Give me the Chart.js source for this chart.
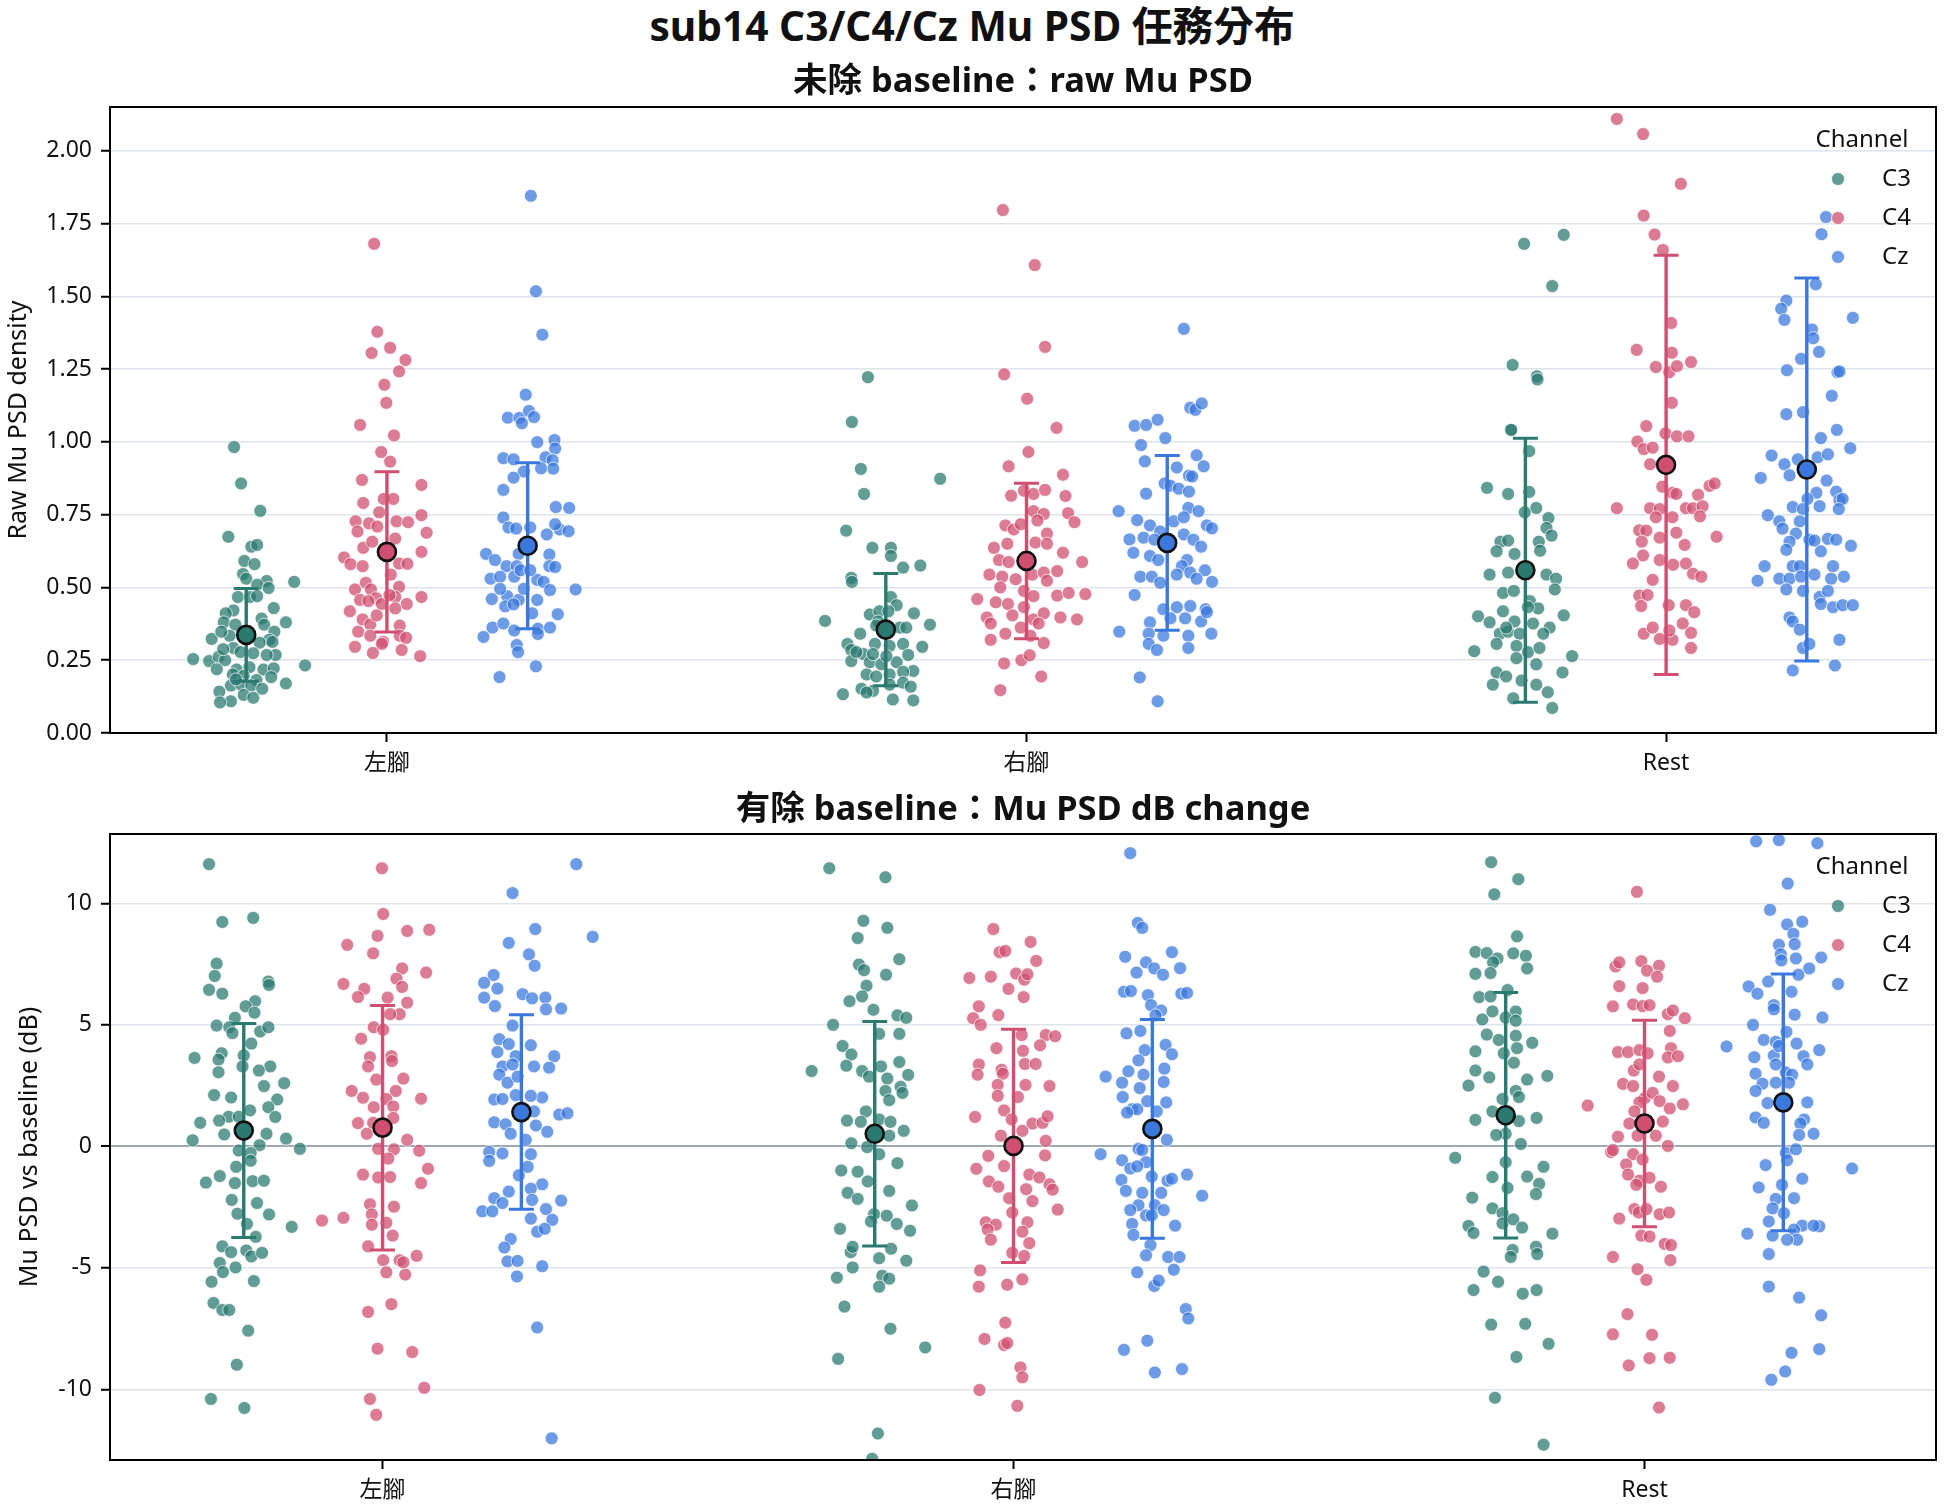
<!DOCTYPE html>
<html><head><meta charset="utf-8">
<script src="https://cdn.jsdelivr.net/npm/chart.js@4.4.1/dist/chart.umd.min.js"></script>
<style>
html,body{margin:0;padding:0;background:#fff;}
body{width:1944px;height:1512px;position:relative;overflow:hidden;font-family:'Noto Sans','Noto Sans CJK TC',sans-serif;}
.t{position:absolute;text-align:center;color:#111;font-weight:bold;white-space:nowrap;line-height:1;z-index:3;}
canvas{position:absolute;left:0;}
</style></head><body>
<canvas id="c1" width="1944" height="743" style="top:57px"></canvas>
<canvas id="c2" width="1944" height="728" style="top:784px"></canvas>
<div class="t" style="left:0;width:1944px;top:5px;font-size:40.7px;">sub14 C3/C4/Cz Mu PSD 任務分布</div>
<div class="t" style="left:110px;width:1826px;top:62px;font-size:34.5px;">未除 baseline：raw Mu PSD</div>
<div class="t" style="left:110px;width:1826px;top:790px;font-size:34.5px;">有除 baseline：Mu PSD dB change</div>
<script>
// ---------------- categories / channels ----------------
const categories = ['左腳', '右腳', 'Rest'];
const channels = ['C3', 'C4', 'Cz'];

// ---------------- raw Mu PSD (top panel) ----------------
const rawLeftC3 = [0.982,0.857,0.763,0.674,0.640,0.646,0.591,0.580,0.546,0.530,0.522,0.519,0.509,0.498,0.467,0.467,0.470,0.429,0.421,0.411,0.380,0.393,0.380,0.372,0.372,0.348,0.323,0.334,0.348,0.320,0.310,0.292,0.278,0.313,0.268,0.268,0.254,0.247,0.262,0.250,0.232,0.219,0.218,0.226,0.218,0.222,0.201,0.196,0.182,0.192,0.170,0.163,0.166,0.163,0.142,0.152,0.131,0.121,0.109,0.105,0.184,0.288,0.274];
const rawLeftC3Jit = [-0.019,-0.008,0.022,-0.028,0.008,0.017,-0.003,0.013,-0.005,0,0.032,0.075,0.017,0.035,-0.013,0.006,0.017,0.043,-0.020,-0.032,-0.035,0.024,0.062,-0.017,0.028,0.044,-0.054,-0.026,-0.039,0.036,0.021,-0.020,-0.009,0.041,0.046,0.032,-0.083,-0.058,-0.043,-0.033,0.092,-0.046,-0.015,0.005,0.027,0.043,-0.021,-0.004,0.016,0.039,0.062,-0.024,-0.008,0.008,-0.042,0.025,-0.004,0.011,-0.024,-0.041,-0.016,-0.036,0.011];
const rawLeftC4 = [1.680,1.378,1.305,1.323,1.281,1.242,1.196,1.134,1.058,1.022,0.965,0.932,0.869,0.852,0.804,0.804,0.790,0.748,0.758,0.727,0.720,0.709,0.727,0.724,0.688,0.692,0.668,0.636,0.657,0.622,0.603,0.580,0.573,0.582,0.581,0.544,0.516,0.493,0.493,0.502,0.463,0.457,0.467,0.443,0.467,0.443,0.418,0.428,0.390,0.373,0.369,0.348,0.334,0.313,0.334,0.327,0.296,0.275,0.285,0.264,0.306,0.474,0.404,0.453];
const rawLeftC4Jit = [-0.020,-0.015,-0.024,0.005,0.029,0.019,-0.004,-0.001,-0.042,0.011,-0.009,0.005,-0.039,0.054,-0.005,0.010,-0.037,0.054,-0.012,-0.049,-0.028,-0.015,0.015,0.033,0.062,-0.046,0.013,-0.037,-0.023,0.054,-0.067,-0.057,-0.038,0.019,0.032,0.006,-0.033,-0.050,-0.025,0.019,-0.017,-0.042,0.013,0.031,0.054,-0.008,-0.058,0.013,-0.038,-0.026,0.020,-0.045,-0.026,-0.006,0.020,0.030,-0.050,-0.022,0.023,0.052,-0.008,0.004,-0.016,-0.029];
const rawLeftCz = [1.845,1.517,1.368,1.162,1.083,1.082,1.106,1.085,1.064,0.999,1.006,0.977,0.944,0.940,0.947,0.937,0.908,0.898,0.909,0.877,0.835,0.776,0.773,0.740,0.706,0.702,0.706,0.699,0.693,0.682,0.717,0.615,0.594,0.615,0.613,0.573,0.573,0.573,0.570,0.530,0.537,0.537,0.526,0.519,0.559,0.493,0.460,0.470,0.457,0.457,0.491,0.435,0.442,0.411,0.408,0.362,0.376,0.352,0.358,0.362,0.340,0.330,0.302,0.278,0.229,0.192,0.495,0.559,0.495];
const rawLeftCzJit = [0.005,0.013,0.023,-0.003,-0.031,-0.013,0.002,0.010,-0.009,0.015,0.042,0.043,-0.038,-0.022,0.028,0.039,0.040,-0.006,0.021,-0.022,-0.038,0.044,0.065,-0.038,-0.030,-0.018,0.004,0.050,0.064,0.030,0.043,-0.065,-0.051,-0.014,0.034,-0.033,-0.017,0.034,0.043,-0.058,-0.043,-0.021,0.015,0.025,-0.011,0.075,-0.056,-0.032,-0.014,0.015,0.035,-0.035,-0.022,0.007,0.047,-0.055,-0.038,-0.021,0.016,0.035,0.016,-0.069,-0.017,-0.015,0.013,-0.044,-0.006,0.004,-0.043];
const rawRightC3 = [1.222,1.068,0.907,0.873,0.821,0.695,0.636,0.636,0.608,0.568,0.575,0.533,0.519,0.385,0.467,0.439,0.407,0.418,0.418,0.411,0.341,0.383,0.362,0.362,0.372,0.306,0.285,0.271,0.306,0.299,0.306,0.296,0.247,0.243,0.236,0.243,0.268,0.213,0.201,0.194,0.201,0.210,0.152,0.145,0.166,0.173,0.159,0.133,0.139,0.115,0.112,0.369,0.278,0.264,0.271];
const rawRightC3Jit = [-0.028,-0.053,-0.039,0.085,-0.034,-0.062,-0.021,0.008,0.008,0.027,0.054,-0.054,-0.053,-0.095,0.008,0.017,-0.025,-0.010,0.004,0.044,-0.040,-0.012,0.022,0.032,0.069,-0.060,-0.054,-0.035,-0.017,0.006,0.027,0.057,-0.054,-0.025,-0.007,0.017,0.035,0.043,-0.030,-0.015,0.006,0.027,-0.038,-0.020,0.006,0.027,0.039,-0.067,-0.030,0.011,0.043,-0.015,-0.046,0.001,-0.020];
const rawRightC4 = [1.796,1.607,1.326,1.232,1.148,1.048,0.965,0.916,0.887,0.815,0.832,0.821,0.835,0.814,0.762,0.752,0.755,0.724,0.713,0.699,0.717,0.730,0.685,0.636,0.594,0.650,0.654,0.650,0.619,0.587,0.587,0.544,0.537,0.528,0.544,0.551,0.556,0.500,0.488,0.523,0.460,0.449,0.443,0.470,0.472,0.481,0.477,0.397,0.376,0.404,0.390,0.411,0.397,0.390,0.320,0.341,0.334,0.309,0.239,0.250,0.267,0.194,0.147,0.362,0.376,0.432];
const rawRightC4Jit = [-0.037,0.013,0.029,-0.035,0.001,0.047,0.003,-0.028,0.057,-0.024,-0.004,0.011,0.029,0.061,0.011,0.027,0.065,0.075,-0.033,-0.020,-0.009,0.017,0.032,-0.051,-0.043,-0.030,0.014,0.032,0.057,0.087,-0.028,-0.058,-0.038,-0.017,0.009,0.027,0.048,-0.041,-0.004,0.032,-0.077,-0.048,-0.029,0.011,0.048,0.066,0.092,-0.062,-0.056,-0.022,0.011,0.027,0.053,0.079,-0.056,-0.033,0.006,0.027,-0.035,-0.008,0.005,0.023,-0.041,-0.009,0.019,-0.004];
const rawRightCz = [1.388,1.117,1.110,1.132,1.055,1.058,1.076,1.013,0.989,0.933,0.912,0.954,0.916,0.884,0.881,0.857,0.849,0.839,0.829,0.822,0.762,0.731,0.773,0.762,0.713,0.692,0.727,0.741,0.713,0.703,0.665,0.671,0.664,0.682,0.664,0.640,0.619,0.608,0.594,0.594,0.573,0.537,0.537,0.516,0.544,0.551,0.559,0.519,0.530,0.474,0.425,0.432,0.436,0.425,0.380,0.394,0.394,0.383,0.348,0.341,0.334,0.334,0.341,0.306,0.285,0.292,0.191,0.109,0.415];
const rawRightCzJit = [0.026,0.036,0.044,0.054,-0.051,-0.033,-0.015,-0.003,-0.041,-0.035,0.015,0.046,0.057,0.034,0.039,-0.004,0.005,0.018,0.034,-0.033,-0.076,-0.047,0.033,0.049,-0.027,-0.011,0.010,0.026,0.062,0.070,-0.059,-0.037,-0.020,0.026,0.041,0.053,-0.053,-0.027,-0.014,0.031,0.023,-0.042,-0.024,-0.011,0.015,0.036,0.059,0.070,0.046,-0.051,-0.006,0.015,0.036,0.060,-0.027,0.005,0.028,0.053,-0.075,-0.029,-0.006,0.033,0.069,-0.029,-0.016,0.033,-0.043,-0.015,0.062];
const rawRestC3 = [1.680,1.711,1.535,1.264,1.225,1.214,1.041,1.041,0.968,0.842,0.821,0.828,0.773,0.758,0.738,0.704,0.678,0.657,0.661,0.624,0.615,0.657,0.626,0.544,0.551,0.544,0.530,0.493,0.481,0.488,0.453,0.428,0.401,0.380,0.418,0.383,0.376,0.362,0.404,0.341,0.348,0.341,0.341,0.281,0.306,0.299,0.278,0.292,0.257,0.236,0.264,0.208,0.194,0.180,0.166,0.208,0.166,0.119,0.140,0.086,0.432,0.362];
const rawRestC3Jit = [-0.002,0.060,0.042,-0.020,0.018,0.019,-0.023,-0.022,0.006,-0.060,-0.027,0.006,0.017,-0.001,0.036,0.033,0.041,-0.039,-0.027,-0.045,-0.017,0.021,0.023,-0.056,-0.027,0.033,0.048,0.046,-0.035,-0.018,0.007,0.020,-0.074,-0.056,-0.035,-0.017,0.012,0.038,0.060,-0.040,-0.027,-0.009,0.028,-0.080,-0.045,-0.014,0.004,0.022,-0.014,0.017,0.073,-0.045,-0.030,-0.006,0.017,0.058,-0.051,-0.019,0.035,0.042,0.004,-0.030];
const rawRestC4 = [2.109,2.057,1.886,1.777,1.712,1.659,1.408,1.316,1.306,1.257,1.239,1.260,1.274,1.134,1.054,1.001,1.029,1.019,1.019,0.975,0.980,0.923,0.846,0.825,0.821,0.818,0.849,0.857,0.772,0.772,0.769,0.772,0.772,0.779,0.744,0.741,0.741,0.696,0.695,0.671,0.688,0.646,0.674,0.657,0.582,0.610,0.594,0.578,0.582,0.547,0.537,0.526,0.472,0.474,0.439,0.439,0.415,0.436,0.341,0.362,0.323,0.320,0.376,0.344,0.292,0.352];
const rawRestC4Jit = [-0.077,-0.036,0.023,-0.035,-0.018,-0.005,0.008,-0.046,0.009,-0.016,0.005,0.017,0.039,0.009,-0.031,-0.045,-0.001,0.017,0.035,-0.035,-0.021,-0.025,-0.006,0.010,0.016,0.050,0.068,0.076,-0.077,-0.025,-0.010,0.031,0.042,0.057,0.053,-0.016,0.010,-0.042,-0.031,-0.010,0.016,0.029,0.079,-0.038,-0.052,-0.036,-0.010,0.011,0.031,0.042,0.055,-0.021,-0.042,-0.029,0.004,0.031,0.044,-0.039,-0.035,-0.021,-0.010,0.010,0.026,0.039,0.039,0.005];
const rawRestCz = [1.772,1.713,1.541,1.426,1.485,1.457,1.419,1.386,1.356,1.309,1.285,1.246,1.239,1.242,1.158,1.095,1.102,1.041,1.013,0.978,0.953,0.923,0.940,0.885,0.947,0.957,0.876,0.867,0.829,0.800,0.804,0.825,0.804,0.776,0.769,0.779,0.769,0.748,0.727,0.702,0.727,0.685,0.657,0.664,0.661,0.667,0.664,0.643,0.629,0.624,0.573,0.573,0.573,0.573,0.523,0.530,0.530,0.537,0.544,0.530,0.537,0.493,0.488,0.467,0.488,0.443,0.432,0.439,0.439,0.397,0.383,0.355,0.292,0.306,0.320,0.215,0.232];
const rawRestCzJit = [0.030,0.023,0.014,0.072,-0.032,-0.040,-0.035,0.008,0.010,0.019,-0.009,-0.031,0.048,0.051,0.039,-0.032,-0.006,0.047,0.022,0.068,-0.055,-0.035,-0.014,-0.027,0.017,0.033,-0.072,0.031,0.046,0.051,0.056,0.015,0.001,-0.022,-0.006,0.020,0.050,-0.061,-0.043,-0.038,-0.011,-0.017,-0.027,0.004,0.012,0.033,0.046,0.069,-0.032,0.022,-0.066,-0.022,-0.011,0.041,-0.077,-0.043,-0.027,-0.009,0.012,0.038,0.058,-0.032,-0.006,0.020,0.033,0.022,0.041,0.056,0.072,-0.027,-0.022,-0.011,-0.006,0.004,0.051,-0.022,0.044];
const rawMeanC3 = [0.337, 0.355, 0.559];
const rawSdC3 = [0.159, 0.193, 0.453];
const rawMeanC4 = [0.622, 0.591, 0.921];
const rawSdC4 = [0.275, 0.267, 0.720];
const rawMeanCz = [0.643, 0.653, 0.905];
const rawSdCz = [0.285, 0.300, 0.658];
const rawTicks = [0, 0.25, 0.5, 0.75, 1.0, 1.25, 1.5, 1.75, 2.0];

// ---------------- Mu PSD dB change (bottom panel) ----------------
const dbLeftC3 = [11.61,9.23,9.40,7.52,7.01,6.44,6.28,6.78,6.64,5.97,5.76,5.50,5.29,4.97,4.90,4.66,4.73,4.90,4.23,3.83,3.64,3.57,3.74,3.29,3.29,3.12,3.05,2.60,2.48,2.11,2.01,1.93,1.61,1.21,1.48,1.22,1.22,0.97,1.06,0.49,0.52,0.32,0.25,0.05,-0.10,-0.17,-0.27,-0.59,-0.84,-1.22,-1.49,-1.51,-1.43,-1.41,-2.20,-2.33,-2.80,-2.77,-3.31,-3.19,-3.72,-4.11,-4.35,-4.28,-4.53,-4.38,-4.80,-4.98,-5.17,-5.57,-5.54,-6.44,-6.73,-6.73,-7.58,-8.98,-10.39,-10.76];
const dbLeftC3Jit = [-0.055,-0.034,0.015,-0.043,-0.046,-0.055,-0.034,0.039,0.040,0.018,0.003,0.017,-0.014,-0.043,-0.023,-0.018,0.026,0.039,0.012,-0.035,-0.078,-0.040,0,-0.002,0.042,0.024,-0.040,0.064,0.032,-0.047,-0.020,0.053,0.039,0.050,0.010,-0.024,-0.008,-0.069,-0.039,-0.031,0.036,0.067,-0.081,0.025,0.089,-0.008,0.011,0.011,-0.012,-0.038,-0.060,-0.014,0.014,0.032,-0.019,0.021,0.040,-0.010,0.076,0.005,0.019,-0.034,-0.020,0.004,0.012,0.029,-0.038,-0.013,-0.033,-0.051,0.016,-0.048,-0.034,-0.023,0.007,-0.011,-0.052,0.001];
const dbLeftC4 = [11.44,9.56,8.66,8.86,8.91,8.29,7.94,7.32,6.90,7.15,6.68,6.48,6.14,6.12,6.56,5.91,5.44,5.44,4.90,4.80,4.43,3.67,3.71,3.29,3.51,2.79,2.75,2.28,2.00,2.28,1.95,1.61,1.64,1.96,0.96,0.52,0.97,1.17,0.27,-0.18,-0.10,-0.12,-0.50,-1.16,-1.28,-1.26,-0.92,-1.51,-2.38,-2.48,-3.05,-2.94,-2.80,-3.22,-3.14,-3.67,-4.11,-4.68,-4.68,-4.50,-5.18,-5.27,-6.81,-6.49,-8.32,-8.46,-9.93,-10.39,-11.04,-4.77];
const dbLeftC4Jit = [-0.001,0.001,-0.008,0.039,0.074,-0.056,-0.015,0.031,0.022,0.069,-0.062,-0.029,-0.039,0.008,0.031,0.039,0.027,0.012,-0.014,0.001,-0.034,-0.020,0.014,-0.023,0.015,0.033,-0.010,-0.049,-0.031,0.021,0.006,-0.014,0.017,0.061,-0.039,-0.025,-0.015,0.017,0.039,0.058,-0.007,0.018,0.009,-0.031,-0.007,0.012,0.072,0.061,-0.020,0.018,-0.096,-0.062,-0.017,-0.017,0.006,0.016,-0.023,0.001,0.027,0.054,0.006,0.036,-0.023,0.014,-0.008,0.047,0.066,-0.020,-0.010,0.033];
const dbLeftCz = [11.61,10.42,8.94,8.62,8.37,7.90,7.43,7.05,6.73,6.49,6.12,5.77,6.26,6.09,6.12,5.64,5.67,4.97,4.41,4.21,4.16,3.88,3.71,3.71,3.29,3.37,3.29,3.24,2.95,2.62,2.87,2.01,1.93,1.95,2.11,2.08,1.44,1.31,1.36,0.99,0.91,0.86,0.60,0.52,0.27,-0.23,-0.29,-0.32,-0.60,-1.19,-0.84,-1.56,-1.86,-1.74,-2.23,-2.13,-2.67,-2.67,-2.20,-2.58,-2.97,-3.02,-3.51,-3.39,-3.81,-4.16,-4.73,-4.71,-4.93,-5.35,-7.45,-12.01,-2.33];
const dbLeftCzJit = [0.087,-0.014,0.022,0.113,-0.020,0.012,0.021,-0.044,-0.059,-0.038,-0.059,-0.042,0.002,0.017,0.038,0.039,0.063,-0.014,-0.035,-0.020,0.015,-0.038,-0.009,0.052,-0.030,-0.014,0.020,0.044,-0.035,-0.022,-0.006,0.033,-0.043,-0.030,-0.009,0.015,0.020,0.060,0.073,-0.043,-0.025,0.023,0.041,-0.017,0.007,-0.051,-0.030,0.015,-0.051,-0.004,0.010,0.033,-0.020,0.015,0.063,-0.043,-0.062,-0.046,0.017,0.039,0.015,0.049,0.025,0.037,-0.017,-0.027,-0.022,-0.006,0.033,-0.007,0.025,0.048,-0.030];
const dbRightC3 = [11.44,11.07,9.28,8.99,8.57,7.48,7.25,7.06,7.70,6.61,6.17,5.97,5.62,5.39,5.29,5.00,4.63,4.63,4.13,3.78,3.32,3.10,3.10,3.29,3.47,2.94,2.87,2.79,2.28,2.45,2.20,1.44,1.90,1.06,1.01,1.11,1.01,0.64,0.13,0.44,-0.03,-0.32,-0.99,-1.04,-0.69,-1.44,-1.83,-1.91,-2.16,-2.43,-2.79,-2.85,-3.39,-3.09,-3.19,-3.47,-4.35,-4.13,-4.21,-4.70,-4.60,-4.98,-5.40,-5.32,-5.44,-5.77,-6.59,-7.50,-8.27,-8.74,-11.81,-12.85];
const dbRightC3Jit = [-0.072,0.017,-0.018,0.020,-0.027,-0.025,-0.017,0.018,0.039,-0.013,-0.020,-0.040,-0.002,0.036,0.050,-0.066,0.007,0.039,-0.051,-0.037,-0.045,-0.100,-0.020,0.010,0.039,0.053,-0.009,0.020,0.017,0.041,0.044,-0.014,0.023,-0.044,-0.022,0.007,0.025,0.046,-0.037,0.023,-0.012,0.007,-0.053,-0.027,0.036,-0.011,0.023,-0.043,-0.027,0.059,-0.001,0.019,-0.055,-0.006,0.035,0.056,-0.038,-0.035,0.026,0.050,0.007,-0.035,-0.060,0.012,0.023,0.007,-0.048,0.025,0.080,-0.058,0.005,-0.004];
const dbRightC4 = [8.94,8.41,7.99,8.04,7.63,6.93,6.98,7.11,6.86,7.08,6.48,6.14,5.76,5.40,5.27,5.00,4.58,4.58,4.53,4.04,3.93,4.16,3.37,3.15,3.39,3.39,2.95,2.99,2.53,2.53,2.48,2.08,2.03,1.21,1.48,1.11,0.94,0.97,1.24,0.44,0.64,0.23,-0.39,-0.37,-0.92,-0.81,-1.16,-1.28,-1.44,-1.66,-1.76,-1.56,-1.78,-2.13,-2.25,-2.60,-2.72,-3.12,-3.22,-3.12,-3.42,-3.51,-3.84,-3.98,-4.38,-4.51,-5.10,-5.77,-5.69,-5.47,-7.25,-7.92,-8.17,-8.09,-9.09,-9.50,-10.02,-10.67];
const dbRightC4Jit = [-0.032,0.027,-0.022,-0.013,0.036,-0.070,-0.036,0.004,0.017,0.022,-0.008,0.016,-0.055,-0.024,-0.064,-0.052,0.013,0.051,0.066,-0.027,0.015,0.042,-0.055,-0.019,0.018,0.035,-0.057,-0.017,-0.025,0.019,0.057,-0.025,0.007,-0.061,-0.015,-0.003,0.030,0.046,0.054,-0.020,0.014,0.051,-0.040,0.050,-0.059,-0.015,0.025,0.041,-0.039,-0.024,0.020,0.057,0.062,-0.007,0.030,0.070,-0.002,-0.044,-0.028,0.022,-0.041,0.014,-0.036,0.025,-0.002,0.017,-0.053,-0.055,-0.010,0.014,-0.013,-0.046,-0.015,-0.010,0.011,0.014,-0.054,0.006];
const dbRightCz = [12.06,9.19,8.99,7.99,7.80,7.57,7.32,7.06,7.33,7.15,6.36,6.39,6.22,6.28,6.31,5.81,5.59,5.39,4.65,4.75,4.18,3.96,3.79,3.54,3.20,2.87,3.09,2.95,2.62,2.40,2.65,2.03,1.53,1.53,1.86,1.81,1.39,1.44,-0.32,-0.10,-0.15,0.27,-0.57,-0.91,-0.65,-0.82,-1.38,-1.24,-1.41,-1.33,-1.16,-2.03,-1.83,-1.91,-1.91,-2.42,-2.42,-2.62,-2.62,-2.84,-3.19,-3.64,-3.26,-4.06,-4.48,-4.55,-4.55,-5.18,-5.07,-5.74,-5.52,-6.69,-7.08,-7.99,-8.37,-9.30,-9.16,-2.84];
const dbRightCzJit = [-0.035,-0.023,-0.016,0.031,-0.043,-0.010,0.003,0.017,0.044,-0.025,-0.045,-0.034,-0.007,0.046,0.055,-0.002,0.014,0.005,-0.041,-0.019,0.021,-0.012,0.031,-0.022,0.019,-0.074,-0.038,-0.014,-0.048,-0.020,0.018,-0.047,-0.032,-0.024,-0.008,0.022,-0.040,0.007,-0.082,-0.022,-0.016,0.023,-0.048,-0.035,-0.010,-0.024,-0.049,-0.001,0.024,0.031,0.055,0.079,-0.042,-0.016,0.014,-0.022,0.004,-0.035,0.018,-0.010,-0.032,-0.030,0.036,-0.003,-0.010,0.025,0.043,-0.024,0.034,0.003,0.010,0.053,0.057,-0.008,-0.045,0.004,0.047,-0.001];
const dbRestC3 = [11.69,10.99,10.37,8.64,8.00,7.95,7.94,7.84,7.73,7.57,7.32,7.10,7.13,6.43,6.14,6.17,5.55,5.55,5.22,5.30,5.17,4.60,4.38,4.55,4.26,3.91,3.83,4.04,3.44,3.12,2.84,2.75,2.90,2.50,2.28,2.03,1.95,1.44,1.09,1.04,1.17,0.52,0.47,0.10,-0.47,-0.65,-0.84,-1.26,-1.24,-1.54,-1.71,-1.96,-2.11,-2.55,-2.75,-3.27,-3.56,-3.17,-3.00,-3.34,-3.59,-4.26,-4.13,-4.43,-4.55,-5.15,-5.57,-5.91,-6.06,-5.91,-7.33,-7.30,-8.12,-8.66,-10.34,-12.27];
const dbRestC3Jit = [-0.023,0.020,-0.018,0.018,-0.048,-0.030,0.012,0.032,-0.013,-0.020,0.034,-0.048,-0.024,0.003,-0.042,-0.024,0.016,-0.021,-0.037,0,0.016,-0.030,-0.011,0.016,0.042,-0.048,-0.003,0.018,0.013,-0.048,-0.026,0.034,0.066,-0.059,0.016,0.021,-0.005,-0.021,-0.048,0.021,0.049,0,-0.015,0.024,-0.080,0,0.060,-0.021,0.034,0.053,0.003,0.048,-0.053,-0.021,-0.005,-0.059,-0.051,-0.005,0.012,0.026,0.074,0.011,0.048,0.050,0.008,-0.035,-0.012,-0.051,0.027,0.049,-0.023,0.031,0.068,0.017,-0.017,0.060];
const dbRestC4 = [10.47,7.40,7.57,7.62,7.43,7.23,6.98,6.59,6.51,5.76,5.84,5.77,5.81,5.44,5.59,5.27,4.75,3.88,3.88,3.96,3.83,3.12,4.04,3.66,3.71,3.37,2.87,2.57,2.48,2.48,1.98,2.20,1.86,1.73,1.81,1.56,1.68,1.44,0.94,1.02,0.40,0.44,0.44,0.02,-0.23,-0.32,-0.15,-0.74,-0.54,-1.16,-1.41,-1.29,-1.66,-1.58,-2.58,-2.72,-2.58,-2.79,-2.72,-2.97,-3.67,-3.71,-4.01,-4.06,-4.55,-4.68,-5.05,-5.49,-6.90,-7.73,-7.75,-9.01,-8.71,-8.69,-10.74];
const dbRestC4Jit = [-0.012,-0.046,-0.040,-0.005,0.023,0.004,0.020,-0.040,-0.003,-0.050,-0.018,-0.003,0.008,0.037,0.045,0.064,0.040,-0.042,-0.026,-0.008,0.005,-0.017,0.042,0.037,0.053,-0.008,0.023,-0.034,-0.018,0.045,0,0.013,0.024,0.061,-0.008,0.040,-0.090,-0.016,-0.024,0.029,-0.042,-0.011,0.018,0.037,-0.053,-0.018,-0.050,-0.029,-0.003,-0.026,-0.008,0.008,0.026,-0.013,-0.016,-0.009,0.003,0.024,0.039,-0.040,-0.005,0.008,0.032,0.042,-0.050,0.041,-0.011,0.003,-0.027,-0.050,0.012,-0.025,0.008,0.040,0.023];
const dbRestCz = [12.55,12.60,12.47,10.81,9.73,9.13,9.24,8.74,8.29,8.32,7.90,7.73,7.77,7.32,7.65,7.06,6.58,6.28,6.78,6.36,5.81,5.42,5.30,5.64,5.00,4.71,4.38,4.30,4.23,3.96,3.71,3.67,3.74,3.37,3.37,2.99,3.04,2.95,2.58,2.28,2.62,2.62,1.78,1.81,1.19,0.97,1.11,0.94,0.47,0.52,-0.27,-0.12,-0.57,-0.91,-0.77,-1.33,-1.58,-1.69,-2.13,-2.16,-2.55,-2.75,-3.09,-3.59,-3.67,-3.26,-3.29,-3.42,-3.26,-4.43,-5.77,-6.22,-6.95,-8.49,-8.34,-9.26,-9.60,4.13,-3.84,-3.84,4.11];
const dbRestCzJit = [-0.043,-0.007,0.054,0.007,-0.021,0.006,0.030,0.016,-0.007,0.018,-0.004,0.020,0.060,0.041,-0.003,0.024,-0.055,-0.041,-0.024,0.013,-0.015,0.018,0.062,-0.015,-0.048,0.005,-0.031,-0.012,0.021,0.057,0.032,-0.046,-0.015,-0.012,0.038,-0.044,0.004,0.014,-0.033,-0.044,-0.012,0.009,-0.025,0.038,-0.044,-0.031,0.033,0.027,0.025,0.048,0.004,0.020,0.006,0.109,-0.028,0.030,-0.002,-0.039,0.017,-0.012,-0.017,0.001,-0.023,-0.057,-0.017,0.030,0.057,0.017,0.048,-0.023,-0.023,0.025,0.060,0.013,0.057,0.003,-0.019,-0.007,0.022,0.006,-0.090];
const dbMeanC3 = [0.65, 0.52, 1.28];
const dbSdC3 = [4.40, 4.62, 5.05];
const dbMeanC4 = [0.77, 0.02, 0.94];
const dbSdC4 = [5.03, 4.80, 4.25];
const dbMeanCz = [1.41, 0.72, 1.81];
const dbSdCz = [4.00, 4.50, 5.28];
const dbTicks = [-10, -5, 0, 5, 10];

// ---------------- styling ----------------
const FONT = "'Noto Sans', 'Noto Sans CJK TC', sans-serif";
const baseColors = ['#2a7a70', '#d04e6f', '#3a78dd'];
const pointColors = ['rgba(42,122,112,0.74)', 'rgba(208,78,111,0.74)', 'rgba(58,120,221,0.74)'];
const hueOffset = [-0.22, 0, 0.22];
const TEXT = '#111';

function makePanel(canvasId, p) {
  const datasets = [];
  channels.forEach((ch, h) => {
    const pts = [];
    categories.forEach((cat, c) => {
      const vals = p.values[h][c], jit = p.jitter[h][c];
      vals.forEach((v, k) => pts.push({x: c + hueOffset[h] + jit[k], y: v}));
    });
    datasets.push({type: 'scatter', label: ch, data: pts, backgroundColor: pointColors[h],
      borderColor: 'rgba(255,255,255,0.9)', borderWidth: 0.8, pointRadius: 6.5, pointHoverRadius: 6.5, order: 2, clip: 0});
  });
  channels.forEach((ch, h) => {
    datasets.push({type: 'scatter', label: ch + ' mean', meanOf: h,
      data: categories.map((cat, c) => ({x: c + hueOffset[h], y: p.means[h][c]})),
      backgroundColor: baseColors[h], borderColor: '#111', borderWidth: 2.6, pointRadius: 9, pointHoverRadius: 9, order: 0, clip: 0});
  });

  const errPlugin = {
    id: 'errbars',
    beforeDatasetDraw(chart, args) {
      const ds = chart.data.datasets[args.index];
      if (ds.meanOf === undefined) return;
      const h = ds.meanOf, ctx = chart.ctx, xs = chart.scales.x, ys = chart.scales.y;
      ctx.save();
      ctx.strokeStyle = baseColors[h];
      categories.forEach((cat, c) => {
        const m = p.means[h][c], s = p.sds[h][c];
        const x = xs.getPixelForValue(c + hueOffset[h]);
        const y1 = ys.getPixelForValue(m - s), y2 = ys.getPixelForValue(m + s);
        ctx.lineWidth = 3.4;
        ctx.beginPath(); ctx.moveTo(x, y1); ctx.lineTo(x, y2); ctx.stroke();
        ctx.lineWidth = 3;
        ctx.beginPath();
        ctx.moveTo(x - 12.5, y1); ctx.lineTo(x + 12.5, y1);
        ctx.moveTo(x - 12.5, y2); ctx.lineTo(x + 12.5, y2);
        ctx.stroke();
      });
      ctx.restore();
    }
  };
  const framePlugin = {
    id: 'frameLegend',
    afterDraw(chart) {
      const a = chart.chartArea, ctx = chart.ctx;
      ctx.save();
      ctx.lineWidth = 2; ctx.strokeStyle = '#000';
      ctx.strokeRect(a.left, a.top, a.right - a.left, a.bottom - a.top);
      ctx.font = '24px ' + FONT; ctx.fillStyle = TEXT; ctx.textBaseline = 'middle';
      ctx.textAlign = 'center';
      ctx.fillText('Channel', a.right - 74, a.top + 33);
      channels.forEach((ch, h) => {
        const y = a.top + 72 + 39 * h;
        ctx.beginPath(); ctx.arc(a.right - 98, y, 6.5, 0, Math.PI * 2);
        ctx.fillStyle = pointColors[h]; ctx.fill();
        ctx.lineWidth = 0.8; ctx.strokeStyle = 'rgba(255,255,255,0.9)'; ctx.stroke();
        ctx.fillStyle = TEXT; ctx.textAlign = 'left';
        ctx.fillText(ch, a.right - 54, y);
      });
      ctx.restore();
    }
  };

  return new Chart(document.getElementById(canvasId), {
    type: 'scatter',
    data: {datasets},
    options: {
      responsive: false, animation: false, devicePixelRatio: 1, events: [],
      layout: {autoPadding: false, padding: {top: 50, left: 0, right: 8, bottom: 0}},
      plugins: {legend: {display: false}, tooltip: {enabled: false}, title: {display: false}},
      scales: {
        x: {
          type: 'linear', min: p.xmin, max: p.xmax,
          afterBuildTicks: s => { s.ticks = categories.map((c, i) => ({value: i})); },
          afterFit: s => { s.height = p.xAxisH; },
          ticks: {font: {family: FONT, size: 23}, color: TEXT, padding: 8, autoSkip: false, maxRotation: 0,
            callback: v => categories[Math.round(v)]},
          grid: {drawOnChartArea: false, drawTicks: true, tickLength: 9, tickColor: '#000', tickWidth: 2},
          border: {display: true, color: '#000', width: 2}
        },
        y: {
          type: 'linear', min: p.ymin, max: p.ymax,
          afterBuildTicks: s => { s.ticks = p.yTicks.map(v => ({value: v})); },
          afterFit: s => { s.width = 110; },
          ticks: {font: {family: FONT, size: 23}, color: TEXT, padding: 9, callback: v => p.fmt(v)},
          grid: {
            color: c => (p.zeroLine && c.tick && c.tick.value === 0) ? '#9ea9b8' : '#dce4ec',
            lineWidth: c => (p.zeroLine && c.tick && c.tick.value === 0) ? 2 : 1.5,
            drawTicks: true, tickLength: 9, tickColor: '#000', tickWidth: 2
          },
          border: {display: true, color: '#000', width: 2},
          title: {display: true, text: p.yTitle, color: TEXT, font: {family: FONT, size: 25},
            padding: {top: p.titlePad, bottom: 0}}
        }
      }
    },
    plugins: [errPlugin, framePlugin]
  });
}

makePanel('c1', {
  values: [[rawLeftC3, rawRightC3, rawRestC3], [rawLeftC4, rawRightC4, rawRestC4], [rawLeftCz, rawRightCz, rawRestCz]],
  jitter: [[rawLeftC3Jit, rawRightC3Jit, rawRestC3Jit], [rawLeftC4Jit, rawRightC4Jit, rawRestC4Jit], [rawLeftCzJit, rawRightCzJit, rawRestCzJit]],
  means: [rawMeanC3, rawMeanC4, rawMeanCz],
  sds: [rawSdC3, rawSdC4, rawSdCz],
  yTicks: rawTicks, fmt: v => v.toFixed(2),
  ymin: 0, ymax: 2.15, xmin: -0.433, xmax: 2.422, xAxisH: 67,
  yTitle: 'Raw Mu PSD density', titlePad: 4, zeroLine: false
});
makePanel('c2', {
  values: [[dbLeftC3, dbRightC3, dbRestC3], [dbLeftC4, dbRightC4, dbRestC4], [dbLeftCz, dbRightCz, dbRestCz]],
  jitter: [[dbLeftC3Jit, dbRightC3Jit, dbRestC3Jit], [dbLeftC4Jit, dbRightC4Jit, dbRestC4Jit], [dbLeftCzJit, dbRightCzJit, dbRestCzJit]],
  means: [dbMeanC3, dbMeanC4, dbMeanCz],
  sds: [dbSdC3, dbSdC4, dbSdCz],
  yTicks: dbTicks, fmt: v => String(v),
  ymin: -12.9, ymax: 12.85, xmin: -0.432, xmax: 2.462, xAxisH: 52,
  yTitle: 'Mu PSD vs baseline (dB)', titlePad: 15, zeroLine: true
});
</script>
</body></html>
